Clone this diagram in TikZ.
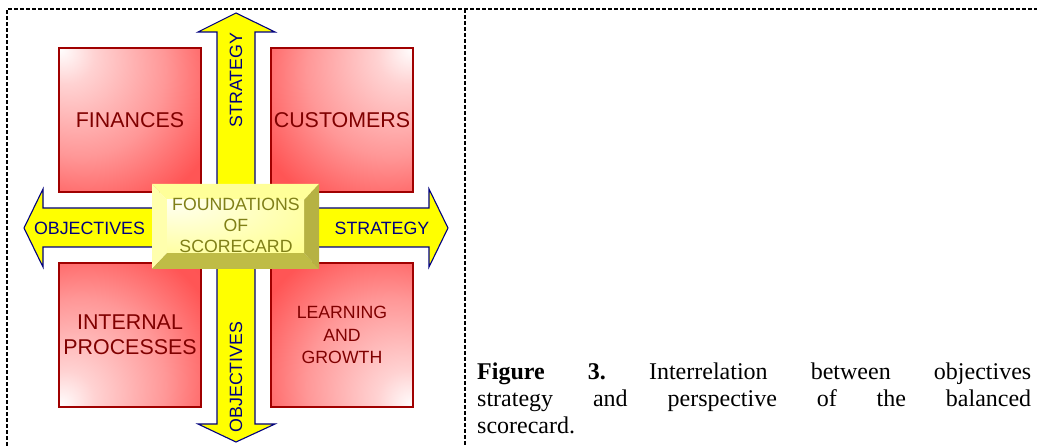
\documentclass[tikz,border=0pt]{standalone}
\usepackage{fontspec}
\setmainfont{Liberation Sans}
\newfontfamily\capfont{Liberation Serif}
\usetikzlibrary{positioning}
\definecolor{BoxRed}{HTML}{FF4C4C}
\definecolor{BoxEdge}{HTML}{A00000}
\definecolor{BoxText}{HTML}{800000}
\definecolor{ArrowFill}{HTML}{FFFF00}
\definecolor{ArrowEdge}{HTML}{000080}
\definecolor{BaseLight}{HTML}{FFFF99}
\definecolor{BaseDark}{HTML}{BFBC46}
\definecolor{BaseFace}{HTML}{FFFF88}
\definecolor{BaseText}{HTML}{808018}

\pgfdeclareradialshading{redTL}{\pgfpoint{-25bp}{25bp}}{color(0bp)=(white); color(10bp)=(BoxRed!25); color(30bp)=(BoxRed!58); color(47bp)=(BoxRed!95); color(100bp)=(BoxRed)}
\pgfdeclareradialshading{redTR}{\pgfpoint{25bp}{25bp}}{color(0bp)=(white); color(10bp)=(BoxRed!25); color(30bp)=(BoxRed!58); color(47bp)=(BoxRed!95); color(100bp)=(BoxRed)}
\pgfdeclareradialshading{redBL}{\pgfpoint{-25bp}{-25bp}}{color(0bp)=(white); color(10bp)=(BoxRed!25); color(30bp)=(BoxRed!58); color(47bp)=(BoxRed!95); color(100bp)=(BoxRed)}
\pgfdeclareradialshading{redBR}{\pgfpoint{25bp}{-25bp}}{color(0bp)=(white); color(10bp)=(BoxRed!25); color(30bp)=(BoxRed!58); color(47bp)=(BoxRed!95); color(100bp)=(BoxRed)}
\pgfdeclareradialshading{baseface}{\pgfpoint{-25bp}{25bp}}{color(0bp)=(BaseFace!10!white); color(30bp)=(BaseFace!60!white); color(55bp)=(BaseFace); color(100bp)=(BaseFace)}

\tikzset{
  persp/.style={draw=BoxEdge, line width=1.3pt, shade, minimum width=142pt,
    minimum height=144pt, inner sep=0pt, text=BoxText, align=center},
  biglabel/.style={font=\fontsize{21.4}{25}\selectfont},
  smalllabel/.style={font=\fontsize{17.7}{22.5}\selectfont},
  arrowlabel/.style={text=ArrowEdge, inner sep=0pt, font=\fontsize{17.8}{20}\selectfont},
  bigarrow/.style={fill=ArrowFill, draw=ArrowEdge, line width=1.1pt, line join=miter},
  frameline/.style={dash pattern=on 4pt off 2pt, line width=2.2pt},
  captext/.style={font=\capfont\fontsize{24}{27.5}\selectfont\frenchspacing,
    anchor=base west, inner sep=0pt}
}

\begin{document}
\begin{tikzpicture}[x=1pt,y=-1pt]
  \useasboundingbox (0,0) rectangle (1037,446);

  \draw[frameline] (7,446) -- (7,9) -- (1037,9);
  \draw[frameline] (465,9) -- (465,446);

  % arrows
  \draw[bigarrow] (236,13) -- (275,32) -- (255,32) -- (255,424) -- (275,424)
    -- (236,442) -- (198,424) -- (217,424) -- (217,32) -- (198,32) -- cycle;
  \draw[bigarrow] (24,228) -- (43,189) -- (43,208) -- (429,208) -- (429,189)
    -- (448,228) -- (429,267) -- (429,247) -- (43,247) -- (43,267) -- cycle;

  \node[arrowlabel, rotate=90] (stratup) at (236,80) {STRATEGY};
  \node[arrowlabel, rotate=90] (objdown) at (236,377) {OBJECTIVES};
  \node[arrowlabel] (objleft) at (89.5,228) {OBJECTIVES};
  \node[arrowlabel] (stratright) at (382,228) {STRATEGY};

  % perspectives
  \node[persp, shading=redTL, biglabel] (fin) at (130,120) {FINANCES};
  \node[persp, shading=redTR, biglabel] (cust) at (342,120) {CUSTOMERS};
  \node[persp, shading=redBL, biglabel] (intp) at (130,335) {INTERNAL\\PROCESSES};
  \node[persp, shading=redBR, smalllabel] (learn) at (342,335) {LEARNING\\AND\\GROWTH};

  % foundations block
  \coordinate (otl) at (152,184);
  \coordinate (otr) at (319,184);
  \coordinate (obr) at (319,269);
  \coordinate (obl) at (152,269);
  \coordinate (itl) at (167,200);
  \coordinate (itr) at (304,200);
  \coordinate (ibr) at (304,253);
  \coordinate (ibl) at (167,253);
  \fill[BaseLight] (otl) -- (otr) -- (itr) -- (itl) -- cycle;
  \fill[BaseLight!80!white] (otl) -- (itl) -- (ibl) -- (obl) -- cycle;
  \fill[BaseDark] (obl) -- (ibl) -- (ibr) -- (obr) -- cycle;
  \fill[BaseDark!95!black] (otr) -- (obr) -- (ibr) -- (itr) -- cycle;
  \shade[shading=baseface] (itl) rectangle (ibr);
  \node[text=BaseText, align=center, inner sep=0pt,
    font=\fontsize{17.7}{21}\selectfont] (found) at (236,225) {FOUNDATIONS\\OF\\SCORECARD};

  % caption
  \node[captext] (cap1) at (477,380)
    {\makebox[554pt][s]{\textbf{Figure 3.} Interrelation between objectives}};
  \node[captext] (cap2) at (477,407)
    {\makebox[554pt][s]{strategy and perspective of the balanced}};
  \node[captext] (cap3) at (477,434) {scorecard.};
\end{tikzpicture}
\end{document}
